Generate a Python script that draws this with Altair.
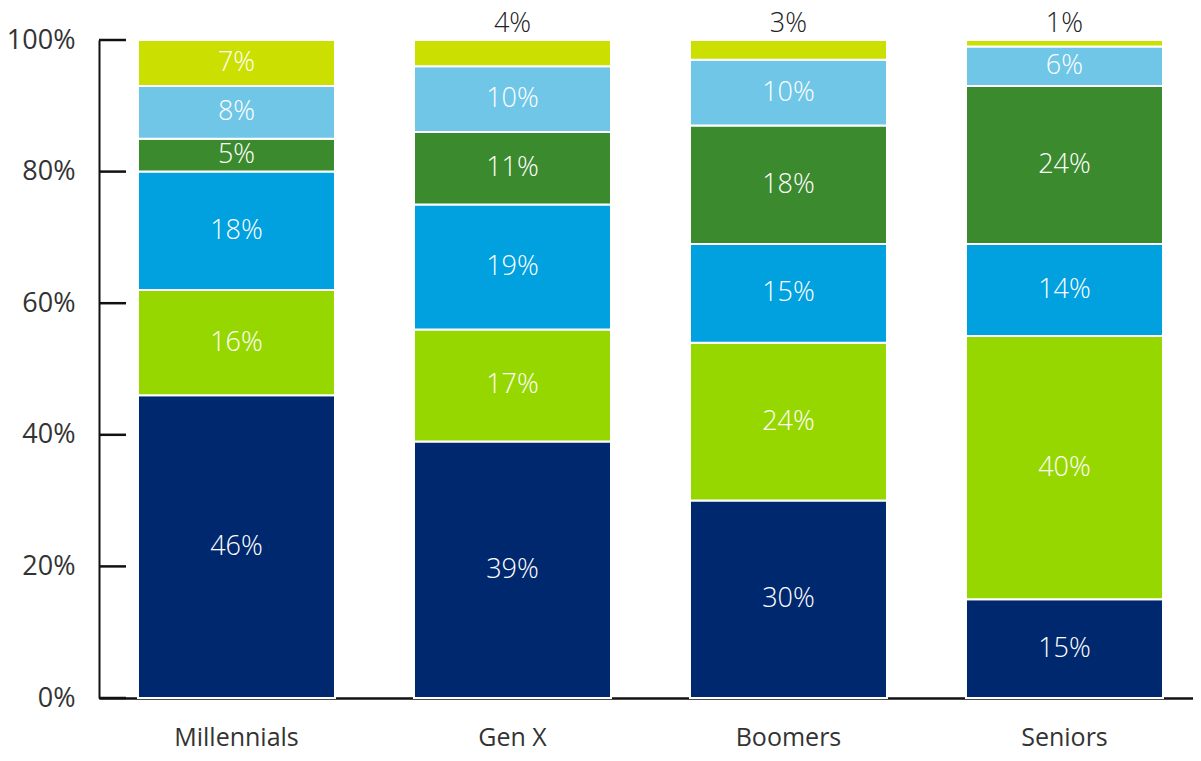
import altair as alt
import pandas as pd

generations = ["Millennials", "Gen X", "Boomers", "Seniors"]
segments = ["s1", "s2", "s3", "s4", "s5", "s6"]
colors = ["#00286E", "#97D700", "#00A1DE", "#3C8A2E", "#6FC6E6", "#CBDF00"]
values = {
    "Millennials": [46, 16, 18, 5, 8, 7],
    "Gen X": [39, 17, 19, 11, 10, 4],
    "Boomers": [30, 24, 15, 18, 10, 3],
    "Seniors": [15, 40, 14, 24, 6, 1],
}
y_ticks = [0, 20, 40, 60, 80, 100]

rows = []
for g in generations:
    cum = 0
    for i, (s, v) in enumerate(zip(segments, values[g])):
        rows.append({"gen": g, "seg": s, "order": i, "value": v,
                     "y0": cum, "y1": cum + v, "mid": cum + v / 2,
                     "label": f"{v}%", "inside": v >= 5})
        cum += v
df = pd.DataFrame(rows)
ticks_df = pd.DataFrame({"t": y_ticks})

FONT = "Open Sans"

x_enc = alt.X("gen:N", sort=generations, title=None,
              scale=alt.Scale(paddingInner=0.2862, paddingOuter=0.125, align=0.565),
              axis=alt.Axis(labelAngle=0, labelFontSize=25, labelColor="#333333",
                            labelFont=FONT, labelPadding=27, ticks=False,
                            domainColor="#111111", domainWidth=2.5))
y_scale = alt.Scale(domain=[0, 100], nice=False, zero=True)

bars = alt.Chart(df).mark_bar(stroke="white", strokeWidth=2).encode(
    x=x_enc,
    y=alt.Y("y0:Q", scale=y_scale, title=None,
            axis=alt.Axis(values=y_ticks, labelExpr="datum.value + '%'",
                          labelFontSize=27, labelColor="#333333", labelFont=FONT,
                          labelPadding=24, ticks=False, grid=False,
                          domainColor="#111111", domainWidth=2)),
    y2="y1:Q",
    color=alt.Color("seg:N", scale=alt.Scale(domain=segments, range=colors), legend=None),
)

inside = alt.Chart(df).transform_filter("datum.inside").mark_text(
    color="white", fontSize=27, font=FONT, fontWeight=300, baseline="middle"
).encode(x=alt.X("gen:N", sort=generations), y=alt.Y("mid:Q", scale=y_scale), text="label:N")

above = alt.Chart(df).transform_filter("!datum.inside").mark_text(
    color="#222222", fontSize=27, font=FONT, fontWeight=300, baseline="middle", dy=-16
).encode(x=alt.X("gen:N", sort=generations), y=alt.Y("y1:Q", scale=y_scale), text="label:N")

tick_rules = alt.Chart(ticks_df).mark_rule(color="#111111", strokeWidth=2.5).encode(
    y=alt.Y("t:Q", scale=y_scale),
    x=alt.value(0), x2=alt.value(27),
)

chart = alt.layer(bars, tick_rules, inside, above).properties(
    width=1094, height=658,
    autosize=alt.AutoSizeParams(type="none"),
    padding={"left": 91, "top": 32, "right": 0, "bottom": 55},
).configure_view(stroke=None)

chart.save("out.html", embed_options={"renderer": "svg", "actions": False})
